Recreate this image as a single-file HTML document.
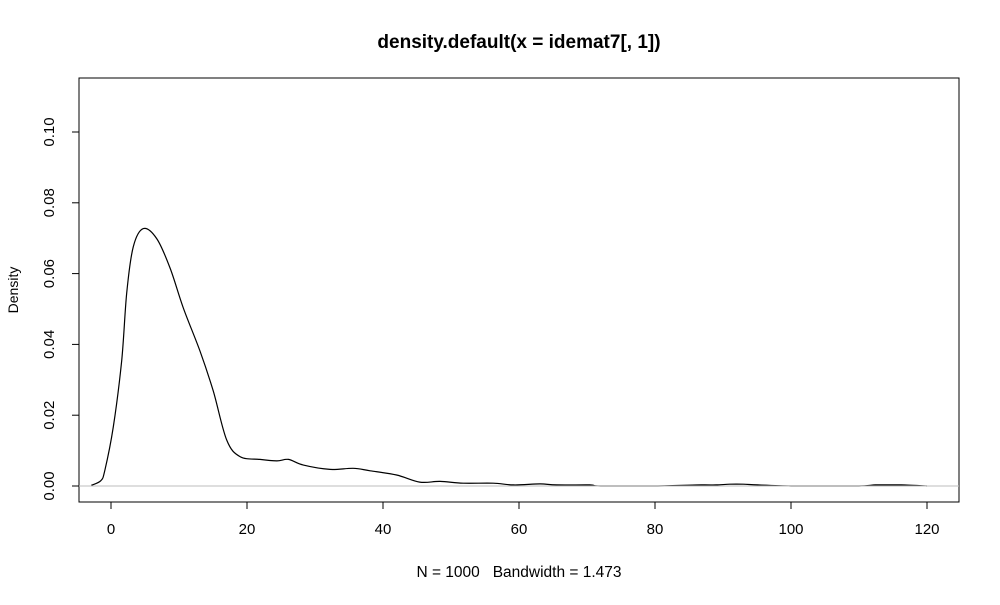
<!DOCTYPE html>
<html><head><meta charset="utf-8"><style>
body{margin:0;background:#fff;}
svg text{font-family:"Liberation Sans",sans-serif;fill:#000;}
</style></head><body>
<svg width="1000" height="600" viewBox="0 0 1000 600">
<text x="519" y="48" text-anchor="middle" font-size="19" font-weight="bold">density.default(x = idemat7[, 1])</text>
<text transform="translate(18,290) rotate(-90)" text-anchor="middle" font-size="14">Density</text>
<text x="519" y="577" text-anchor="middle" font-size="15.5" xml:space="preserve" style="white-space:pre">N = 1000   Bandwidth = 1.473</text>
<rect x="79" y="78" width="880" height="424" fill="none" stroke="#000" stroke-width="1"/>
<g id="axes"></g>
<path id="curve" fill="none" stroke="#000" stroke-width="1.2"/>
<line id="zero" x1="79" x2="959" stroke="#bebebe" stroke-width="1"/>
</svg>
<script>
const xTicks=[0,20,40,60,80,100,120];
const yTicks=[0,0.02,0.04,0.06,0.08,0.10];
const yTickLabels=["0.00","0.02","0.04","0.06","0.08","0.10"];
const xs=[-2.9,-1.5,-0.9,0.34,1.57,2.31,3.28,4.75,6.72,8.68,10.63,13.09,15.04,17.01,18.97,21.9,24.4,26.1,28.3,32.2,35.6,38.1,42.0,45.4,48.4,51.8,56.2,59.2,63.1,65.5,70.4,72,80,86.8,89,91,93,95.1,100,105,110,112.4,114,116.2,120];
const ds=[0.0002,0.0015,0.0045,0.0167,0.0354,0.0545,0.0676,0.0727,0.0699,0.0616,0.0503,0.0381,0.0268,0.013,0.0083,0.0075,0.0071,0.0075,0.0059,0.0047,0.005,0.0043,0.0031,0.0011,0.0013,0.0008,0.0008,0.0003,0.0006,0.0003,0.0003,0,0,0.0003,0.0003,0.0005,0.0005,0.0003,0,0,0,0.0003,0.0003,0.0003,0];
const X=v=>111+6.8*v, Y=d=>486-3540*d;
const ns="http://www.w3.org/2000/svg", g=document.getElementById('axes');
function mk(t,a){const e=document.createElementNS(ns,t);for(const k in a)e.setAttribute(k,a[k]);g.appendChild(e);return e;}
xTicks.forEach(v=>{
 const l=mk('line',{x1:X(v),x2:X(v),y1:502,y2:509,stroke:'#000'});
 
 
 const t=mk('text',{x:X(v),y:534,'text-anchor':'middle','font-size':'15'});t.textContent=v;
 
 
});
yTicks.forEach((v,i)=>{
 const l=mk('line',{x1:72,x2:79,y1:Y(v),y2:Y(v),stroke:'#000'});
 
 
 const t=mk('text',{transform:`translate(54,${Y(v)}) rotate(-90)`,'text-anchor':'middle','font-size':'15'});t.textContent=yTickLabels[i];
 
 
});
const P=xs.map((v,i)=>[X(v),Y(ds[i])]);
let d='M'+P[0][0].toFixed(1)+' '+P[0][1].toFixed(1);
for(let i=0;i<P.length-1;i++){
 const p0=P[Math.max(0,i-1)],p1=P[i],p2=P[i+1],p3=P[Math.min(P.length-1,i+2)];
 let c1y=p1[1]+(p2[1]-p0[1])/6, c2y=p2[1]-(p3[1]-p1[1])/6;
 c1y=Math.min(c1y,486);c2y=Math.min(c2y,486);
 d+=` C${(p1[0]+(p2[0]-p0[0])/6).toFixed(1)} ${c1y.toFixed(1)} ${(p2[0]-(p3[0]-p1[0])/6).toFixed(1)} ${c2y.toFixed(1)} ${p2[0].toFixed(1)} ${p2[1].toFixed(1)}`;
}
document.getElementById('curve').setAttribute('d',d);
const z=document.getElementById('zero');z.setAttribute('y1',Y(0));z.setAttribute('y2',Y(0));
</script>
</body></html>
